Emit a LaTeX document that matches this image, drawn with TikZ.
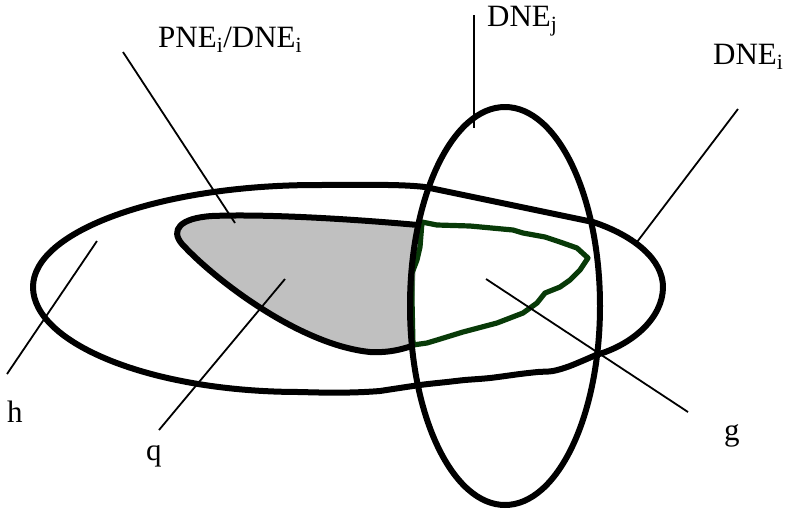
\documentclass[tikz,border=0pt]{standalone}
\usepackage{fontspec}
\setmainfont{Liberation Serif}
\definecolor{dkgreen}{RGB}{8,58,8}
\definecolor{qgray}{RGB}{192,192,192}
\begin{document}
\begin{tikzpicture}[x=1pt,y=-1pt,
  thickline/.style={line width=6pt, line join=round, line cap=round},
  leader/.style={line width=1.8pt},
  lbl/.style={inner sep=0pt, anchor=base west, font=\fontsize{31}{36}\selectfont},
  greenline/.style={draw=dkgreen, line width=5.2pt, line join=round, line cap=round}]
\useasboundingbox (0,0) rectangle (788,512);
% big shape h
\draw[thickline] (33,287) .. controls (33,231) and (160,185) .. (317,185)
  .. controls (360,185) and (400,184) .. (425,187)
  -- (593,222)
  .. controls (635,236) and (663,260) .. (663,287)
  .. controls (663,318) and (632,345) .. (596,355)
  -- plot[smooth, tension=0.5] coordinates {(596,355) (570,366) (553,371) (538,372) (520,374) (490,378) (465,380) (447,382) (420,385) (380,391)}
  .. controls (355,393) and (330,393) .. (300,392)
  .. controls (150,392) and (33,343) .. (33,287) -- cycle;
% gray shape q
\draw[thickline, fill=qgray] (418,225) .. controls (340,218) and (260,214) .. (212,216)
  .. controls (180,218) and (170,230) .. (182,244)
  .. controls (215,280) and (300,345) .. (370,352)
  .. controls (390,353) and (402,349) .. (412,346);
% green shape g
\draw[greenline] (422,222) -- (437,225) -- (470,226) -- (513,230) -- (523,233) -- (545,237)
  -- (560,242) -- (577,248) -- (588,258) -- (580,270) -- (570,280) -- (560,287)
  -- (545,293) -- (537,303) -- (523,313) -- (497,323) -- (463,332) -- (437,340)
  -- (427,343) -- (413,345) -- (412,300) -- (412,273) -- (417,260) -- (420,247) -- cycle;
% ellipse DNE_j
\draw[thickline] (505,306) ellipse [x radius=95, y radius=199];
% labels
\node[lbl] (pne) at (158,47) {PNE\textsubscript{i}/DNE\textsubscript{i}};
\node[lbl] (dnej) at (487,26) {DNE\textsubscript{j}};
\node[lbl] (dnei) at (713,64) {DNE\textsubscript{i}};
\node[lbl] (h) at (7,422) {h};
\node[lbl] (q) at (146,460) {q};
\node[lbl] (g) at (724,440) {g};
% leader ends
\coordinate (pneA) at (123,52);   \coordinate (pneB) at (235,223);
\coordinate (dnejA) at (474,15);  \coordinate (dnejB) at (474,128);
\coordinate (dneiA) at (738,109); \coordinate (dneiB) at (637,242);
\coordinate (hA) at (97,241);     \coordinate (hB) at (7,374);
\coordinate (qA) at (285,279);    \coordinate (qB) at (159,430);
\coordinate (gA) at (486,279);    \coordinate (gB) at (688,412);
\draw[leader] (pneA) -- (pneB);
\draw[leader] (dnejA) -- (dnejB);
\draw[leader] (dneiA) -- (dneiB);
\draw[leader] (hA) -- (hB);
\draw[leader] (qA) -- (qB);
\draw[leader] (gA) -- (gB);
\end{tikzpicture}
\end{document}
